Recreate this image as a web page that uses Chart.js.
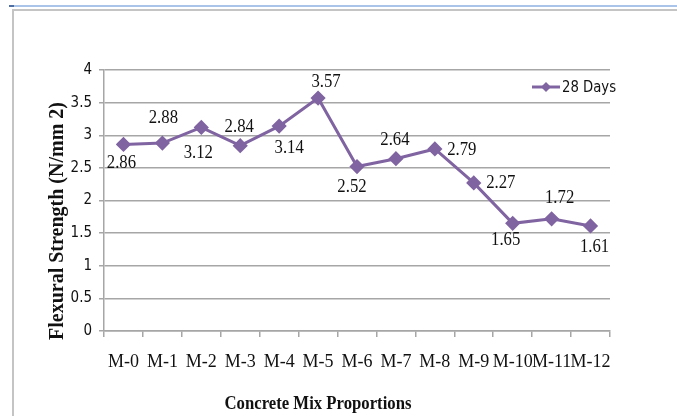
<!DOCTYPE html>
<html>
<head>
<meta charset="utf-8">
<script src="https://cdn.jsdelivr.net/npm/chart.js@4.4.1/dist/chart.umd.min.js"></script>
<style>
  html, body { margin: 0; padding: 0; background: #fff; }
  #wrap { position: relative; width: 677px; height: 416px; overflow: hidden; background: #fff; }
  #blueLine { position: absolute; left: 9px; top: 5px; width: 700px; height: 2px; background: #a9c4e8; }
  #blueTip { position: absolute; left: 9px; top: 5px; width: 5px; height: 2px; background: #4f6fa3; }
  #box { position: absolute; left: 12px; top: 9px; width: 700px; height: 500px;
         border-left: 2px solid #c4c4c4; border-top: 2px solid #c4c4c4; }
  canvas { position: absolute; left: 0; top: 0; }
</style>
</head>
<body>
<div id="wrap">
  <div id="blueLine"></div>
  <div id="blueTip"></div>
  <div id="box"></div>
  <canvas id="grafico" width="677" height="416"></canvas>
</div>
<script>
const categorias = ['M-0', 'M-1', 'M-2', 'M-3', 'M-4', 'M-5', 'M-6', 'M-7', 'M-8', 'M-9', 'M-10', 'M-11', 'M-12'];
const dias28 = [2.86, 2.88, 3.12, 2.84, 3.14, 3.57, 2.52, 2.64, 2.79, 2.27, 1.65, 1.72, 1.61];
const yTicks = [0, 0.5, 1, 1.5, 2, 2.5, 3, 3.5, 4];
const yTickLabels = ['0', '0.5', '1', '1.5', '2', '2.5', '3', '3.5', '4'];
const serieNome = '28 Days';
const tituloX = 'Concrete Mix Proportions';
const tituloY = 'Flexural Strength (N/mm 2)';

const roxo = '#8064a2';
const serif = '"Liberation Serif", "Times New Roman", serif';
const narrow = '"Liberation Sans Narrow", "DejaVu Sans Condensed", sans-serif';

// deslocamento de cada rótulo em relação ao ponto (como foram arrastados no original)
const offsetsRotulos = [
  [-2, 19], [1, -25], [-3, 26], [-1, -19], [10, 22], [8, -16], [-5, 20],
  [-1, -19], [27, 1], [27, 0], [-7, 17], [8, -21], [4, 21]
];

// o original está um pouco "apertado" na horizontal
function textoApertado(ctx, txt, x, y, fx) {
  ctx.save();
  ctx.translate(x, y);
  ctx.scale(fx, 1);
  ctx.fillText(txt, 0, 0);
  ctx.restore();
}

const rotulosPlugin = {
  id: 'rotulos',
  afterDatasetsDraw(chart) {
    const ctx = chart.ctx;
    const meta = chart.getDatasetMeta(0);
    ctx.save();
    ctx.font = '19px ' + serif;
    ctx.fillStyle = '#111';
    ctx.textAlign = 'center';
    ctx.textBaseline = 'middle';
    meta.data.forEach((pt, i) => {
      const off = offsetsRotulos[i];
      textoApertado(ctx, dias28[i].toFixed(2), pt.x + off[0], pt.y + off[1], 0.88);
    });
    ctx.restore();
  }
};

const extrasPlugin = {
  id: 'extras',
  afterDraw(chart) {
    const ctx = chart.ctx;
    const area = chart.chartArea;
    ctx.save();

    // legenda dentro da área do gráfico
    const ly = area.top + 17;
    const lx0 = area.right - 78;
    const lx1 = area.right - 50;
    ctx.strokeStyle = roxo;
    ctx.lineWidth = 3;
    ctx.beginPath();
    ctx.moveTo(lx0, ly);
    ctx.lineTo(lx1, ly);
    ctx.stroke();
    ctx.fillStyle = roxo;
    const cx = (lx0 + lx1) / 2;
    ctx.beginPath();
    ctx.moveTo(cx, ly - 5);
    ctx.lineTo(cx + 5, ly);
    ctx.lineTo(cx, ly + 5);
    ctx.lineTo(cx - 5, ly);
    ctx.closePath();
    ctx.fill();
    ctx.fillStyle = '#111';
    ctx.font = '16px ' + narrow;
    ctx.textAlign = 'left';
    ctx.textBaseline = 'middle';
    textoApertado(ctx, serieNome, lx1 + 2, ly + 1, 0.92);

    // títulos dos eixos
    ctx.fillStyle = '#111';
    ctx.textAlign = 'center';
    ctx.textBaseline = 'middle';
    ctx.font = 'bold 19px ' + serif;
    textoApertado(ctx, tituloX, 318, 404, 0.88);

    ctx.translate(58, 221);
    ctx.rotate(-Math.PI / 2);
    ctx.font = 'bold 20px ' + serif;
    ctx.fillText(tituloY, 0, 0);
    ctx.restore();
  }
};

new Chart(document.getElementById('grafico'), {
  type: 'line',
  data: {
    labels: categorias,
    datasets: [{
      label: serieNome,
      data: dias28,
      borderColor: roxo,
      backgroundColor: roxo,
      borderWidth: 3,
      pointStyle: 'rectRot',
      pointRadius: 5.5,
      pointHoverRadius: 5.5,
      tension: 0
    }]
  },
  options: {
    responsive: false,
    animation: false,
    devicePixelRatio: 1,
    layout: { padding: { top: 70, right: 67, left: 0, bottom: 0 } },
    plugins: {
      legend: { display: false },
      tooltip: { enabled: false }
    },
    scales: {
      x: {
        offset: true,
        grid: {
          offset: true,
          drawOnChartArea: false,
          drawTicks: true,
          tickLength: 6,
          color: '#a6a6a6',
          lineWidth: 1.5
        },
        border: { color: '#a6a6a6', width: 1.5 },
        ticks: {
          color: '#111',
          padding: 14,
          maxRotation: 0,
          autoSkip: false,
          font: { family: serif, size: 18 }
        },
        afterFit: s => { s.height = 85; }
      },
      y: {
        min: 0,
        max: 4,
        afterBuildTicks: s => { s.ticks = yTicks.map(v => ({ value: v })); },
        grid: {
          color: '#a6a6a6',
          lineWidth: 1.5,
          tickLength: 5
        },
        border: { color: '#a6a6a6', width: 1.5 },
        ticks: {
          color: '#111',
          padding: 7,
          callback: (v, i) => yTickLabels[i],
          font: { family: narrow, size: 15 }
        },
        afterFit: s => { s.width = 104; }
      }
    }
  },
  plugins: [rotulosPlugin, extrasPlugin]
});
</script>
</body>
</html>
